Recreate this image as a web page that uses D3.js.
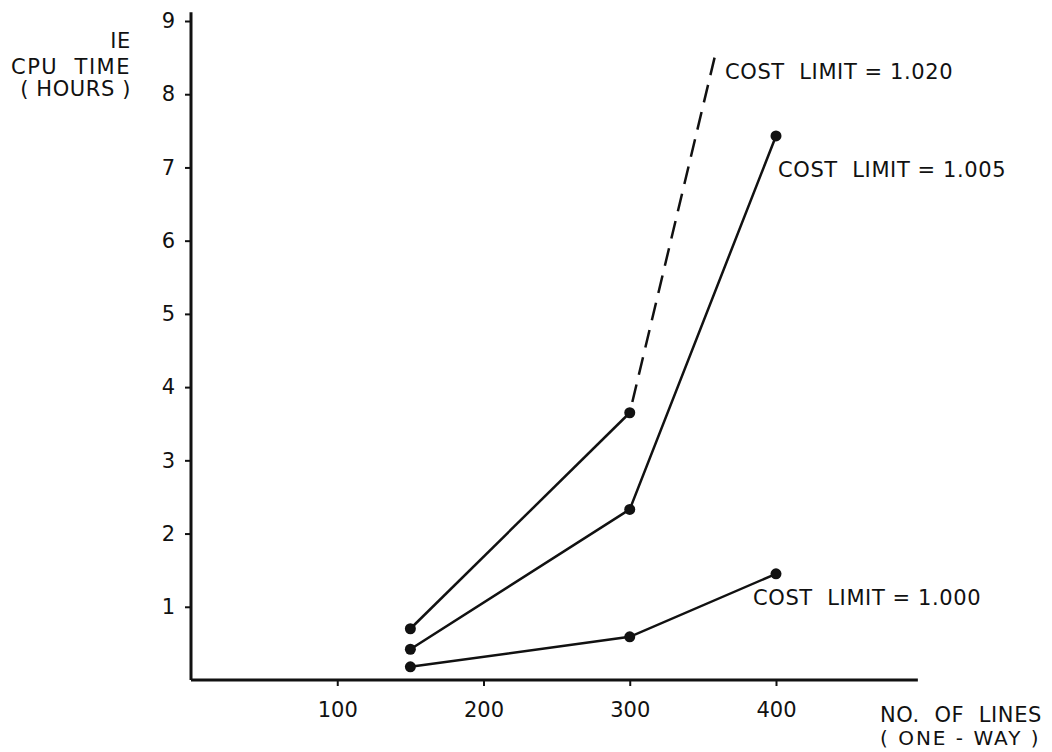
<!DOCTYPE html>
<html>
<head>
<meta charset="utf-8">
<script src="https://cdn.jsdelivr.net/npm/d3@7"></script>
<style>
    body { margin: 0; background: #fff; }
    svg { display: block; }
    text { font-family: "DejaVu Sans", sans-serif; fill: #111; }
    .axis text { font-size: 21px; }
    .axis line, .axis path { stroke: #111; }
    .label { font-size: 21px; letter-spacing: 0.6px; white-space: pre; }
</style>
</head>
<body>
<div id="chart"></div>
<script>

// number of lines (one-way)
var lines = [150, 300, 400];

// CPU time in hours, one array per cost limit
var cost1000 = [0.18, 0.59, 1.45];
var cost1005 = [0.42, 2.33, 7.43];
var cost1020 = [0.70, 3.65];

// dashed extension of the 1.020 curve (runs off the top), drawn top-down
var dashLines = [358, 300];
var dashTime = [8.5, 3.65];

var xTicks = [100, 200, 300, 400];
var yTicks = [1, 2, 3, 4, 5, 6, 7, 8, 9];

var seriesLabels = ['COST  LIMIT = 1.020', 'COST  LIMIT = 1.005', 'COST  LIMIT = 1.000'];


var width = 1052, height = 752;

var svg = d3.select('#chart').append('svg')
    .attr('width', width)
    .attr('height', height);

// Scales
var x = d3.scaleLinear()
    .domain([0, 400])
    .range([191, 776]);
var y = d3.scaleLinear()
    .domain([0, 9])
    .range([680, 21]);

// Axes (domain lines drawn by hand so they can run past the last tick)
var xAxis = d3.axisBottom(x)
    .tickValues(xTicks)
    .tickSize(6)
    .tickPadding(16)
    .tickFormat(d3.format('d'));
var yAxis = d3.axisLeft(y)
    .tickValues(yTicks)
    .tickSize(6)
    .tickPadding(10)
    .tickFormat(d3.format('d'));

var gx = svg.append('g')
    .attr('class', 'axis x-axis')
    .attr('transform', 'translate(0,' + y(0) + ')')
    .call(xAxis);
gx.select('.domain').remove();
gx.selectAll('line').attr('stroke-width', 2);

var gy = svg.append('g')
    .attr('class', 'axis y-axis')
    .attr('transform', 'translate(' + x(0) + ',0)')
    .call(yAxis);
gy.select('.domain').remove();
gy.selectAll('line').attr('stroke-width', 2);

svg.append('line')
    .attr('x1', x(0)).attr('x2', x(497))
    .attr('y1', y(0)).attr('y2', y(0))
    .attr('stroke', '#111')
    .attr('stroke-width', 3);
svg.append('line')
    .attr('x1', x(0)).attr('x2', x(0))
    .attr('y1', y(0)).attr('y2', y(9.12))
    .attr('stroke', '#111')
    .attr('stroke-width', 3);

// Y-axis title
var yTitle = ['IE', 'CPU  TIME', '( HOURS )'];
svg.selectAll('.y-title')
    .data(yTitle)
    .enter()
    .append('text')
    .attr('class', 'label y-title')
    .attr('x', 131)
    .attr('y', function(d, i) { return [48, 74, 96][i]; })
    .style('text-anchor', 'end')
    .style('letter-spacing', function(d, i) { return i == 1 ? '1.5px' : '0.6px'; })
    .text(function(d) { return d; });

// X-axis title
svg.append('text')
    .attr('class', 'label')
    .attr('x', 880)
    .attr('y', 722)
    .text('NO.  OF  LINES');
svg.append('text')
    .attr('class', 'label')
    .attr('x', 880)
    .attr('y', 745)
    .style('font-size', '20px')
    .style('letter-spacing', '2px')
    .text('( ONE - WAY )');

// Lines
var line = d3.line()
    .x(function(d) { return x(d[0]); })
    .y(function(d) { return y(d[1]); });

var series = [cost1020, cost1005, cost1000];

svg.selectAll('.curve')
    .data(series)
    .enter()
    .append('path')
    .attr('class', 'curve')
    .attr('d', function(d) { return line(d3.zip(lines.slice(0, d.length), d)); })
    .attr('fill', 'none')
    .attr('stroke', '#111')
    .attr('stroke-width', 2.5);

svg.append('path')
    .attr('d', line(d3.zip(dashLines, dashTime)))
    .attr('fill', 'none')
    .attr('stroke', '#111')
    .attr('stroke-width', 2.5)
    .attr('stroke-dasharray', '18,10');

// Markers
var points = [];
series.forEach(function(s) {
    s.forEach(function(v, i) { points.push([lines[i], v]); });
});
svg.selectAll('.dot')
    .data(points)
    .enter()
    .append('circle')
    .attr('class', 'dot')
    .attr('cx', function(d) { return x(d[0]); })
    .attr('cy', function(d) { return y(d[1]); })
    .attr('r', 5.5)
    .attr('fill', '#111');

// Series labels
var labelPos = [[725, 79], [778, 177], [753, 605]];
svg.selectAll('.series-label')
    .data(seriesLabels)
    .enter()
    .append('text')
    .attr('class', 'label series-label')
    .attr('x', function(d, i) { return labelPos[i][0]; })
    .attr('y', function(d, i) { return labelPos[i][1]; })
    .text(function(d) { return d; });

</script>
</body>
</html>
